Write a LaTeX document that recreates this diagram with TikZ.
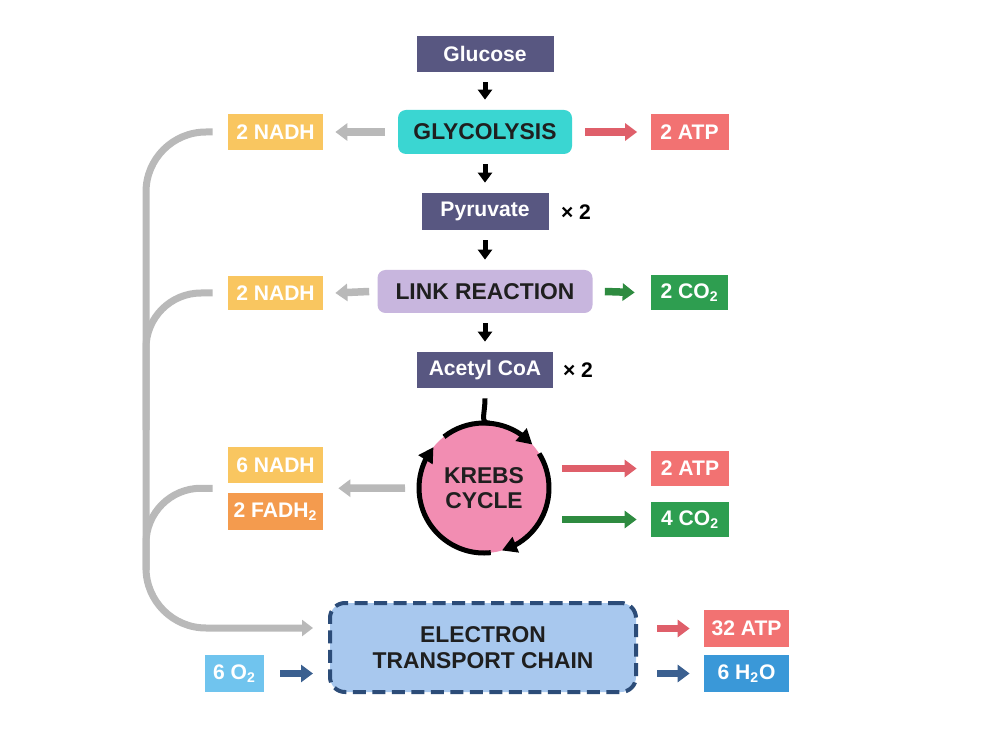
\documentclass[tikz,border=0pt]{standalone}
\usepackage{fontspec}
\setmainfont{Liberation Sans}
\usetikzlibrary{arrows.meta,bending,calc}
\definecolor{slate}{HTML}{585781}
\definecolor{glycoTeal}{HTML}{3AD6D2}
\definecolor{linkLilac}{HTML}{C8B6DE}
\definecolor{nadhGold}{HTML}{F9C660}
\definecolor{fadhOrange}{HTML}{F49B4E}
\definecolor{atpSalmon}{HTML}{F27272}
\definecolor{co2Green}{HTML}{2E9E50}
\definecolor{waterBlue}{HTML}{3A98D8}
\definecolor{oxyBlue}{HTML}{70C4EE}
\definecolor{krebsPink}{HTML}{F28DB2}
\definecolor{etcFill}{HTML}{A8C8EE}
\definecolor{etcEdge}{HTML}{2C4C78}
\definecolor{atpRed}{HTML}{DF5F6A}
\definecolor{arrowGreen}{HTML}{2E8B40}
\definecolor{etcArrow}{HTML}{3B6090}
\definecolor{lineGrey}{HTML}{B9B9B9}
\begin{document}
\begin{tikzpicture}[x=0.2mm,y=-0.2mm,
    box/.style={inner sep=0pt,minimum height=7.2mm,text=white,
        font=\bfseries\fontsize{12}{14}\selectfont},
    molecule/.style={box,fill=slate,minimum width=27.4mm},
    stage/.style={box,rounded corners=1.6mm,text=black!88,minimum height=8.8mm,
        font=\bfseries\fontsize{13}{15}\selectfont},
    carrier/.style={box,minimum width=19mm},
    product/.style={box,minimum width=15.6mm},
    times/.style={font=\bfseries\fontsize{12}{14}\selectfont},
    down/.style={-{Triangle[width=2.8mm,length=2mm]},line width=1mm,
        shorten <=2mm,shorten >=2mm},
    side/.style={-{Triangle[width=3.4mm,length=2.4mm]},line width=1.5mm},
    greyline/.style={line width=1.4mm,draw=lineGrey},
    turn/.style={line width=1mm,-{Triangle[width=3.2mm,length=3mm]}}]
\useasboundingbox[fill=white] (0,0) rectangle (1000,749);
%%%% Add nodes for the main pathway
    \node[molecule] (glucose) at (485,54) {Glucose};
    \node[stage,fill=glycoTeal,minimum width=34.8mm] (glyco) at (485,132) {GLYCOLYSIS};
    \node[molecule,minimum width=25.4mm,minimum height=7.4mm] (pyruvate) at (485,211.5) {Pyruvate};
    \node[times] (pyrtimes) at (576,212) {× 2};
    \node[stage,fill=linkLilac,minimum width=43mm,minimum height=8.6mm] (link) at (485,291.5) {LINK REACTION};
    \node[molecule,minimum width=27.2mm] (acetyl) at (485,370) {Acetyl CoA};
    \node[times] (acetimes) at (578,370) {× 2};
    \node[circle,fill=krebsPink,minimum size=26mm,inner sep=0pt,outer sep=0pt,align=center,
        text=black!88,font=\bfseries\fontsize{13}{14.5}\selectfont] (krebs) at (484,488) {KREBS\\CYCLE};
    \node[rounded corners=3mm,fill=etcFill,draw=etcEdge,line width=0.8mm,
        dash pattern=on 2.6mm off 1.3mm,minimum width=61.2mm,minimum height=17.8mm,
        align=center,text=black!88,font=\bfseries\fontsize{13}{15}\selectfont] (etc) at (483,647.5) {ELECTRON\\TRANSPORT CHAIN};
%%%% Add nodes for the products
    \node[carrier,fill=nadhGold] (nadhA) at (275.5,132) {2 NADH};
    \node[product,fill=atpSalmon] (atpA) at (689.5,132) {2 ATP};
    \node[carrier,fill=nadhGold,minimum height=6.8mm] (nadhB) at (275.5,293) {2 NADH};
    \node[product,fill=co2Green,minimum width=15.4mm,minimum height=7mm] (co2A) at (689.5,292.5) {2 CO\textsubscript{2}};
    \node[carrier,fill=nadhGold] (nadhC) at (275.5,465) {6 NADH};
    \node[carrier,fill=fadhOrange,minimum height=7.4mm] (fadh) at (275.5,511.5) {2 FADH\textsubscript{2}};
    \node[product,fill=atpSalmon,minimum height=7mm] (atpB) at (690,468.5) {2 ATP};
    \node[product,fill=co2Green,minimum height=7mm] (co2B) at (690,519.5) {4 CO\textsubscript{2}};
    \node[product,fill=atpSalmon,minimum width=17mm,minimum height=7.4mm] (atpC) at (746.5,628.5) {32 ATP};
    \node[product,fill=waterBlue,minimum width=17mm,minimum height=7.4mm] (water) at (746.5,673.5) {6 H\textsubscript{2}O};
    \node[product,fill=oxyBlue,minimum width=11.8mm,minimum height=7.4mm] (oxy) at (234.5,673.5) {6 O\textsubscript{2}};
%%%% Add black arrows down the pathway
    \draw[down] (glucose) -- (glyco);
    \draw[down] (glyco) -- (pyruvate);
    \draw[down] (pyruvate) -- (link);
    \draw[down] (link) -- (acetyl);
%%%% Add the cycle ring
    \draw[line width=1mm] ([yshift=-2mm]acetyl.south) .. controls +(0,16) and +(-10,0) .. (krebs.85);
    \draw[turn] (krebs.128) arc[start angle=128,end angle=42,radius=13mm];
    \draw[turn] (krebs.32) arc[start angle=32,end angle=-74,radius=13mm];
    \draw[turn] (krebs.-84) arc[start angle=-84,end angle=-219,radius=13mm];
%%%% Add side arrows
    \coordinate (gapR) at ($(nadhC.east)!0.5!(fadh.east)$);
    \coordinate (gapL) at ($(nadhC.west)!0.5!(fadh.west)$);
    \draw[side,draw=lineGrey] ([xshift=-2.6mm]glyco.west) -- ([xshift=2.4mm]nadhA.east);
    \draw[side,draw=atpRed] ([xshift=2.6mm]glyco.east) -- ([xshift=-2.6mm]atpA.west);
    \draw[side,draw=lineGrey] ([xshift=-1.6mm]link.west) -- ([xshift=2.4mm]nadhB.east);
    \draw[side,draw=arrowGreen] ([xshift=2.4mm]link.east) -- ([xshift=-3.2mm]co2A.west);
    \draw[side,draw=lineGrey] ([xshift=-2.8mm]krebs.west) -- ([xshift=3mm]gapR);
    \draw[side,draw=atpRed] ([xshift=2.6mm]krebs.east |- atpB) -- ([xshift=-2.8mm]atpB.west);
    \draw[side,draw=arrowGreen] ([xshift=2.6mm]krebs.east |- co2B) -- ([xshift=-2.8mm]co2B.west);
    \draw[side,draw=atpRed] ([xshift=3.8mm]etc.east |- atpC) -- ([xshift=-2.8mm]atpC.west);
    \draw[side,draw=etcArrow] ([xshift=3.8mm]etc.east |- water) -- ([xshift=-2.8mm]water.west);
    \draw[side,draw=etcArrow] ([xshift=3.2mm]oxy.east) -- ([xshift=-3mm]etc.west |- oxy);
%%%% Add grey lines from the carriers to the chain
    \coordinate (bus) at (146,628);
    \coordinate (joinB) at (146,430);
    \coordinate (joinC) at (146,570);
    \draw[greyline,rounded corners=12mm,-{Triangle[width=3.2mm,length=2.2mm]}]
        ([xshift=-3mm]nadhA.west) -| (bus) -- ([xshift=-3mm]etc.west |- bus);
    \draw[greyline,rounded corners=11mm] ([xshift=-3mm]nadhB.west) -| (joinB);
    \draw[greyline,rounded corners=11mm] ([xshift=-3mm]gapL) -| (joinC);
\end{tikzpicture}
\end{document}
